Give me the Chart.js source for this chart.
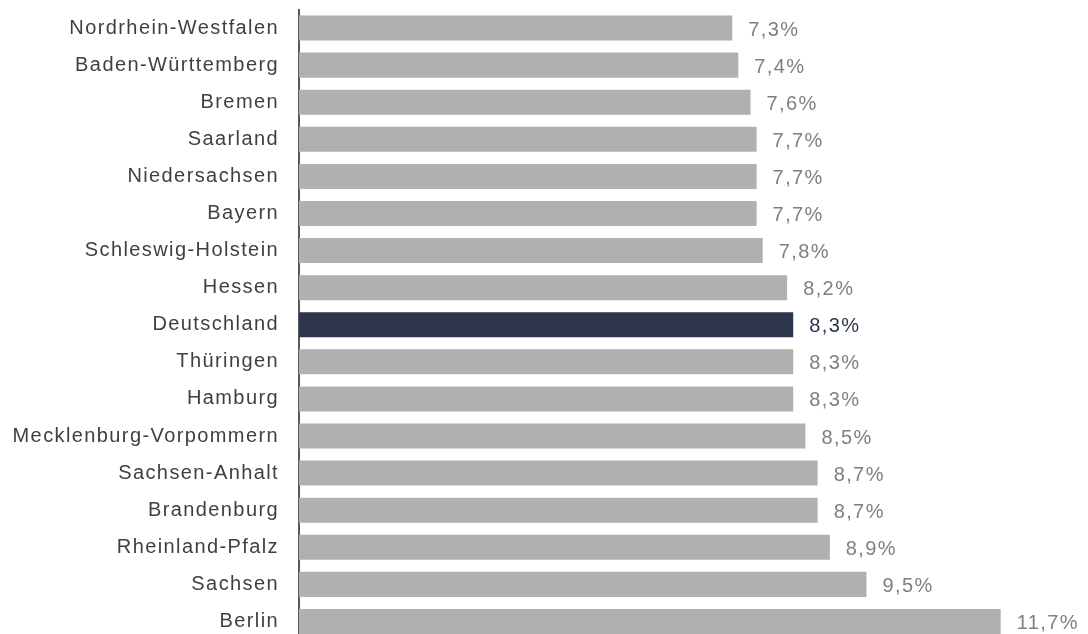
<!DOCTYPE html>
<html>
<head>
<meta charset="utf-8">
<script src="https://cdn.jsdelivr.net/npm/chart.js@4"></script>
<style>
  html, body { margin: 0; padding: 0; background: #fff; overflow: hidden; }
  #wrap { width: 1088px; height: 650px; position: relative; }
</style>
</head>
<body>
<div id="wrap"><canvas id="myChart"></canvas></div>
<script>
const ctx = document.getElementById("myChart");

var arrLabels = [
  "Nordrhein-Westfalen",
  "Baden-Württemberg",
  "Bremen",
  "Saarland",
  "Niedersachsen",
  "Bayern",
  "Schleswig-Holstein",
  "Hessen",
  "Deutschland",
  "Thüringen",
  "Hamburg",
  "Mecklenburg-Vorpommern",
  "Sachsen-Anhalt",
  "Brandenburg",
  "Rheinland-Pfalz",
  "Sachsen",
  "Berlin",
];
var arrData = [7.3, 7.4, 7.6, 7.7, 7.7, 7.7, 7.8, 8.2, 8.3, 8.3, 8.3, 8.5, 8.7, 8.7, 8.9, 9.5, 11.7];
var highlight = "Deutschland";

var barGrey = "#b0b0b0";
var barDark = "#2e364d";
var arrColors = arrLabels.map((l) => (l === highlight ? barDark : barGrey));
var arrLabelColors = arrLabels.map((l) => (l === highlight ? "#2e364d" : "#7f7f7f"));

const FONT = "'Liberation Sans', Arial, sans-serif";
const LS = "1.4px";

// letter spacing like the original export
const spacing = {
  id: "spacing",
  beforeLayout: (chart) => { chart.ctx.letterSpacing = LS; },
  beforeDraw: (chart) => { chart.ctx.letterSpacing = LS; },
};

// value labels right of each bar
const valueLabels = {
  id: "valueLabels",
  afterDatasetsDraw: function (chart) {
    const c = chart.ctx;
    const meta = chart.getDatasetMeta(0);
    c.save();
    c.letterSpacing = LS;
    c.font = "20px " + FONT;
    c.textAlign = "left";
    c.textBaseline = "middle";
    meta.data.forEach((bar, i) => {
      c.fillStyle = arrLabelColors[i];
      c.fillText(arrData[i].toFixed(1).replace(".", ",") + "%", bar.x + 16, bar.y + 2);
    });
    c.restore();
  },
};

new Chart(ctx, {
  type: "bar",
  data: {
    labels: arrLabels,
    datasets: [
      {
        data: arrData,
        backgroundColor: arrColors,
        barPercentage: 0.675,
        categoryPercentage: 1,
      },
    ],
  },
  options: {
    indexAxis: "y",
    responsive: true,
    maintainAspectRatio: false,
    animation: false,
    layout: { padding: { top: 9.5, bottom: 10, left: 0, right: 8 } },
    plugins: {
      legend: { display: false },
      tooltip: { enabled: false },
    },
    scales: {
      x: {
        display: false,
        min: 0.2,
        max: 13,
      },
      y: {
        grid: { display: false, drawTicks: false },
        border: { display: true, color: "#595959", width: 2 },
        afterFit: (scale) => {
          scale.width = 299;
          scale.paddingTop = 0;
          scale.paddingBottom = 0;
        },
        ticks: {
          color: "#404040",
          padding: 20,
          font: { size: 20, family: FONT },
        },
      },
    },
  },
  plugins: [spacing, valueLabels],
});
</script>
</body>
</html>
